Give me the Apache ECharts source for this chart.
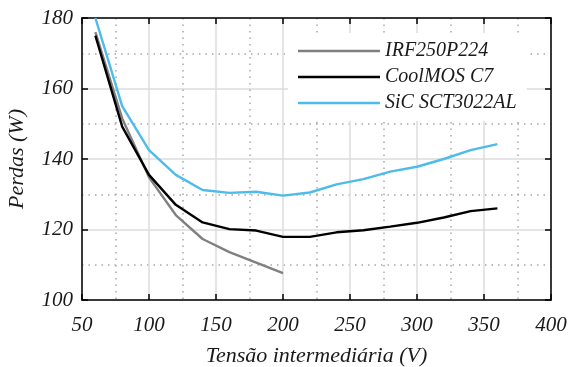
<!DOCTYPE html>
<html>
<head>
<meta charset="utf-8">
<script src="https://cdn.jsdelivr.net/npm/echarts@6/dist/echarts.min.js"></script>
<style>
  html, body { margin: 0; padding: 0; background: #fff; }
  #chart { width: 568px; height: 367px; }
</style>
</head>
<body>
<div id="chart"></div>
<script>
// tensão intermediária (V)
const voltage = [60, 80, 100, 120, 140, 160, 180, 200, 220, 240, 260, 280, 300, 320, 340, 360];

// perdas (W)
const irf250 = [176, 151.5, 134.8, 124.1, 117.3, 113.6, 110.6, 107.6];
const coolmos = [175, 149.2, 135.5, 127, 122, 120.1, 119.7, 117.9, 117.9, 119.2, 119.8, 120.8, 121.9, 123.4, 125.2, 126];
const sic = [180, 155, 142.5, 135.5, 131.2, 130.4, 130.7, 129.6, 130.5, 132.8, 134.3, 136.4, 137.8, 140, 142.5, 144.2];

const seriesNames = ['IRF250P224', 'CoolMOS C7', 'SiC SCT3022AL'];
const seriesColors = ['#808080', '#000000', '#4dbbeb'];

const font = 'Liberation Serif';

const pairs = (ys) => ys.map((y, i) => [voltage[i], y]);

const chart = echarts.init(document.getElementById('chart'));

const boxAxis = {
  axisLine: { show: true, onZero: false, lineStyle: { color: '#000', width: 1.5 } },
  axisTick: { show: true, inside: true, length: 6, lineStyle: { color: '#000', width: 1.5 } }
};

const minorGrid = { show: true, lineStyle: { color: '#a8a8a8', width: 1.5, type: [1.5, 5] } };
const labelText = { fontFamily: font, fontStyle: 'italic', fontSize: 21, color: '#1a1a1a' };

chart.setOption({
  animation: false,
  grid: { left: 82, right: 17, top: 18, bottom: 67, outerBoundsMode: 'none' },
  legend: {
    orient: 'vertical',
    left: 288,
    top: 33,
    padding: [8, 10],
    backgroundColor: '#fff',
    itemWidth: 82,
    itemHeight: 2.5,
    itemGap: 6,
    icon: 'rect',
    textStyle: { fontFamily: font, fontStyle: 'italic', fontSize: 20, lineHeight: 20, color: '#1a1a1a' },
    data: seriesNames.map((n, i) => ({ name: n, itemStyle: { color: seriesColors[i] } }))
  },
  xAxis: [
    {
      type: 'value', min: 50, max: 400, interval: 50,
      name: 'Tensão intermediária (V)', nameLocation: 'middle', nameGap: 45,
      nameTextStyle: { ...labelText, fontSize: 22 },
      ...boxAxis,
      axisLabel: { margin: 15, ...labelText },
      splitLine: { show: true, lineStyle: { color: '#dcdcdc', width: 1.5 } },
      minorTick: { show: false, splitNumber: 2 },
      minorSplitLine: minorGrid
    },
    {
      type: 'value', min: 50, max: 400, interval: 50, position: 'top',
      ...boxAxis,
      axisLabel: { show: false }, splitLine: { show: false }
    }
  ],
  yAxis: [
    {
      type: 'value', min: 100, max: 180, interval: 20,
      name: 'Perdas (W)', nameLocation: 'middle', nameGap: 54,
      nameTextStyle: { ...labelText, fontSize: 22 },
      ...boxAxis,
      axisLabel: { margin: 9, ...labelText },
      splitLine: { show: true, lineStyle: { color: '#dcdcdc', width: 1.5 } },
      minorTick: { show: false, splitNumber: 2 },
      minorSplitLine: minorGrid
    },
    {
      type: 'value', min: 100, max: 180, interval: 20, position: 'right',
      ...boxAxis,
      axisLabel: { show: false }, splitLine: { show: false }
    }
  ],
  series: [irf250, coolmos, sic].map((d, i) => ({
    name: seriesNames[i],
    type: 'line',
    data: pairs(d),
    showSymbol: false,
    clip: true,
    lineStyle: { color: seriesColors[i], width: 2.4 },
    itemStyle: { color: seriesColors[i] }
  }))
});
</script>
</body>
</html>
